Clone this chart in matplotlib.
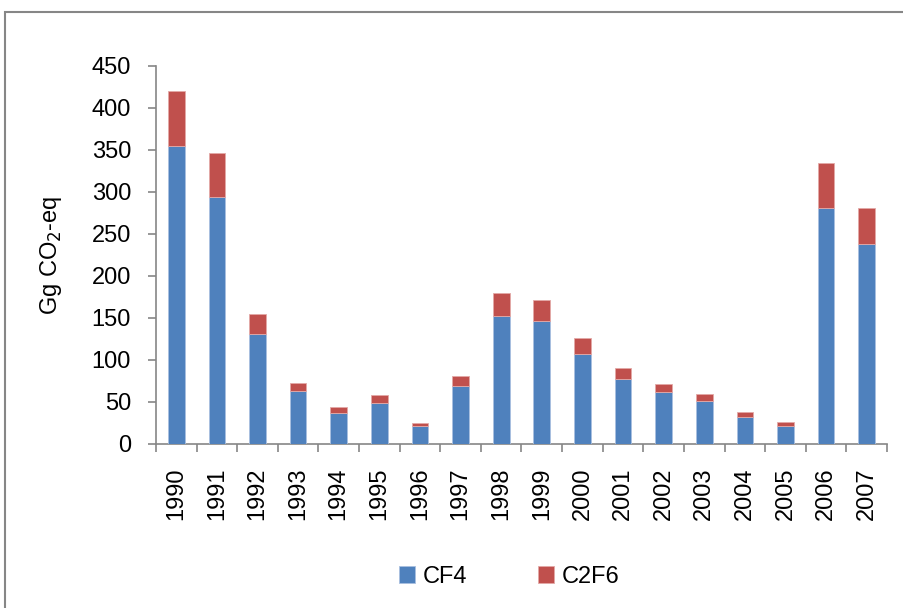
import matplotlib
matplotlib.use("Agg")
import matplotlib.pyplot as plt
import numpy as np
from matplotlib.patches import Rectangle

years = ["1990", "1991", "1992", "1993", "1994", "1995", "1996", "1997", "1998",
         "1999", "2000", "2001", "2002", "2003", "2004", "2005", "2006", "2007"]
cf4 = [355, 294, 131, 63, 37, 49, 22, 69, 152, 146, 107, 77, 62, 51, 32, 22, 281, 238]
total = [420, 347, 155, 73, 44, 58, 25, 81, 180, 172, 126, 91, 72, 60, 38, 26, 334, 281]
c2f6 = [t - c for t, c in zip(total, cf4)]

BLUE = "#4F81BD"
RED = "#C0504D"
GRAY = "#868686"
FS = 17

plt.rcParams["font.family"] = ["Liberation Sans", "DejaVu Sans"]

fig = plt.figure(figsize=(9.04, 6.08), dpi=100)
ax = fig.add_axes([156 / 904, 164 / 608, 731 / 904, 378 / 608])

x = np.arange(len(years))
w = 0.41
ax.bar(x, cf4, w, color=BLUE, edgecolor="#a9c0e0", linewidth=0.6, label="CF4", zorder=3)
ax.bar(x, c2f6, w, bottom=cf4, color=RED, edgecolor="#e3a9a7", linewidth=0.6, label="C2F6", zorder=3)

ax.set_xlim(-0.5, len(years) - 0.5)
ax.set_ylim(0, 450)
ax.set_yticks(np.arange(0, 451, 50))

# tick marks between categories, labels centred under bars
ax.set_xticks(np.arange(-0.5, len(years), 1.0))
ax.set_xticklabels([])
ax.set_xticks(x, minor=True)
ax.set_xticklabels(years, minor=True, rotation=90, fontsize=FS)
ax.tick_params(axis="x", which="minor", length=0, pad=17)
ax.tick_params(axis="x", which="major", length=6, color=GRAY, width=1.2, direction="out")
ax.tick_params(axis="y", length=6, color=GRAY, width=1.2, labelsize=FS, pad=12)

for s in ["top", "right"]:
    ax.spines[s].set_visible(False)
for s in ["left", "bottom"]:
    ax.spines[s].set_color(GRAY)
    ax.spines[s].set_linewidth(1.2)

ax.set_ylabel("Gg CO$_2$-eq", fontsize=FS)
ax.yaxis.set_label_coords(-0.126, 0.5)

fig.legend(loc="center", bbox_to_anchor=(509 / 904, 1 - 577 / 608), ncol=2,
           frameon=False, fontsize=FS, handlelength=0.7, handleheight=0.7,
           handletextpad=0.3, columnspacing=3.0)

# outer chart frame (runs off the right and bottom edges)
fig.patches.append(Rectangle((5 / 904, -0.05), 1.0, 1 - 12 / 608 + 0.05,
                             transform=fig.transFigure, fill=False,
                             edgecolor=GRAY, linewidth=1.5))

fig.savefig("out.png", dpi=100)
